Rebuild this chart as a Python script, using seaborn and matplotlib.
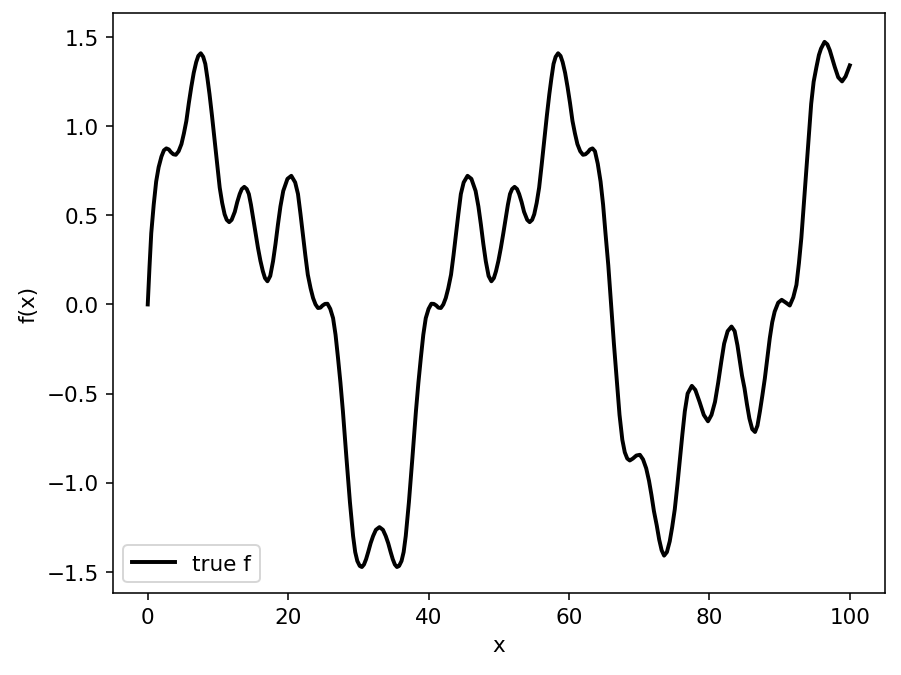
import matplotlib
matplotlib.use("Agg")
import matplotlib.pyplot as plt
import seaborn as sns

# x positions and curve values
x_vals = [
    0.0, 0.25, 0.5, 0.85, 1.2, 1.55, 1.95, 2.3, 2.65, 3.0, 3.3, 3.65, 4.0, 4.4, 4.8,
    5.15, 5.5, 5.85, 6.2, 6.55, 6.9, 7.2, 7.55, 7.9, 8.2, 8.5, 8.8, 9.15, 9.5, 9.9,
    10.25, 10.6, 10.95, 11.25, 11.6, 11.95, 12.4, 12.75, 13.1, 13.4, 13.75, 14.1, 14.4,
    14.7, 15.0, 15.35, 15.7, 16.05, 16.4, 16.7, 17.05, 17.45, 17.85, 18.2, 18.55, 18.9,
    19.3, 19.9, 20.45, 21.0, 21.4, 21.75, 22.1, 22.45, 22.8, 23.2, 23.55, 23.9, 24.25,
    24.6, 24.9, 25.25, 25.6, 26.0, 26.4, 26.75, 27.1, 27.45, 27.8, 28.3, 28.8, 29.25,
    29.55, 29.85, 30.2, 30.5, 30.8, 31.1, 31.4, 31.75, 32.1, 32.5, 33.0,
    33.5, 33.9, 34.25, 34.6, 34.9, 35.2, 35.5, 35.8, 36.15, 36.45, 36.75, 37.2, 37.7,
    38.2, 38.55, 38.9, 39.25, 39.6, 40.0, 40.4, 40.75, 41.1, 41.4, 41.75, 42.1, 42.45,
    42.8, 43.2, 43.55, 43.9, 44.25, 44.6, 45.0, 45.55, 46.1, 46.7, 47.1, 47.45, 47.8,
    48.15, 48.55, 48.95, 49.3, 49.6, 49.95, 50.3, 50.65, 51.0, 51.3, 51.6, 51.9, 52.25,
    52.6, 52.9, 53.25, 53.6, 54.05, 54.4, 54.75, 55.05, 55.4, 55.75, 56.1, 56.5, 56.85,
    57.2, 57.5, 57.8, 58.1, 58.45, 58.8, 59.1, 59.45, 59.8, 60.15, 60.5, 60.85, 61.2,
    61.6, 62.0, 62.35, 62.7, 63.0, 63.35,
    63.7, 64.1, 64.5, 64.86, 65.2, 65.6, 66.0, 66.4, 66.8, 67.2, 67.6, 67.95, 68.3,
    68.66, 69.1, 69.6, 70.1, 70.55, 71.0, 71.4, 71.75, 72.1, 72.5, 72.85, 73.2, 73.55,
    73.95, 74.35, 74.7, 75.07, 75.45, 75.8, 76.15, 76.5, 76.9, 77.5, 78.0, 78.6, 79.2,
    79.8, 80.3, 80.8, 81.25, 81.7, 82.1, 82.6, 83.15, 83.6, 84.0, 84.3, 84.65, 85.0,
    85.35, 85.7, 86.1, 86.5, 86.85, 87.2, 87.55, 87.9, 88.25, 88.6, 88.95, 89.3, 89.8,
    90.3, 90.9, 91.45, 91.95, 92.4, 92.75, 93.1, 93.45, 93.8, 94.15, 94.5, 94.85, 95.25,
    95.6, 95.9, 96.4, 96.8, 97.15, 97.5, 97.86, 98.35, 98.9, 99.4, 100.0,
]
f_vals = [
    0.0, 0.21, 0.40, 0.56, 0.69, 0.77, 0.83, 0.865, 0.876, 0.87, 0.855, 0.843, 0.84, 0.86, 0.90,
    0.96, 1.03, 1.13, 1.22, 1.30, 1.36, 1.395, 1.41, 1.39, 1.35, 1.27, 1.18, 1.06, 0.93, 0.78,
    0.656, 0.57, 0.506, 0.475, 0.462, 0.475, 0.52, 0.575, 0.62, 0.648, 0.66, 0.648, 0.62,
    0.56, 0.487, 0.40, 0.318, 0.245, 0.186, 0.148, 0.13, 0.16, 0.243, 0.34, 0.45, 0.55,
    0.637, 0.705, 0.722, 0.685, 0.62, 0.51, 0.393, 0.275, 0.167, 0.09, 0.036, 0.0, -0.02,
    -0.018, -0.006, 0.003, 0.004, -0.025, -0.077, -0.17, -0.30, -0.44, -0.60, -0.86, -1.11, -1.30,
    -1.39, -1.44, -1.468, -1.474, -1.46, -1.43, -1.39, -1.34, -1.30, -1.265, -1.25,
    -1.265, -1.30, -1.34, -1.39, -1.43, -1.46, -1.474, -1.468, -1.44, -1.39, -1.30, -1.11, -0.86,
    -0.60, -0.44, -0.30, -0.17, -0.077, -0.025, 0.004, 0.003, -0.006, -0.018, -0.02, 0.0, 0.036,
    0.09, 0.167, 0.275, 0.393, 0.51, 0.62, 0.685, 0.722, 0.705, 0.637, 0.55, 0.45, 0.34,
    0.243, 0.16, 0.13, 0.148, 0.186, 0.245, 0.318, 0.40, 0.487, 0.56, 0.62, 0.648, 0.66,
    0.648, 0.62, 0.575, 0.52, 0.475, 0.462, 0.475, 0.506, 0.57, 0.656, 0.78, 0.93, 1.06,
    1.18, 1.27, 1.35, 1.39, 1.41, 1.395, 1.36, 1.30, 1.22, 1.13, 1.03, 0.96, 0.90,
    0.86, 0.84, 0.843, 0.855, 0.87, 0.876,
    0.86, 0.79, 0.69, 0.56, 0.40, 0.22, 0.0, -0.22, -0.42, -0.62, -0.76, -0.83, -0.865,
    -0.876, -0.865, -0.848, -0.844, -0.87, -0.92, -0.99, -1.07, -1.16, -1.24, -1.32, -1.38, -1.41,
    -1.39, -1.33, -1.25, -1.15, -1.01, -0.867, -0.73, -0.60, -0.50, -0.457, -0.48, -0.547, -0.62,
    -0.656, -0.62, -0.547, -0.44, -0.32, -0.22, -0.15, -0.124, -0.15, -0.23, -0.31, -0.40, -0.47,
    -0.56, -0.64, -0.70, -0.716, -0.68, -0.60, -0.51, -0.415, -0.30, -0.19, -0.10, -0.04, 0.01,
    0.026, 0.01, -0.006, 0.04, 0.11, 0.23, 0.374, 0.56, 0.75, 0.94, 1.126, 1.25, 1.333,
    1.40, 1.436, 1.474, 1.46, 1.427, 1.38, 1.333, 1.275, 1.252, 1.28, 1.342,
]

plt.rcParams["font.size"] = 11

fig, ax = plt.subplots(figsize=(6.4, 4.8), dpi=140.8)
sns.lineplot(x=x_vals, y=f_vals, color="black", linewidth=2, label="true f", ax=ax)
ax.set_xlim(-5, 105)
ax.set_ylim(-1.621, 1.634)
ax.set_xlabel("x")
ax.set_ylabel("f(x)")
ax.legend(loc="lower left")
fig.subplots_adjust(left=0.125, right=0.982, top=0.979, bottom=0.121)
fig.savefig("out.png", dpi=140.8)
